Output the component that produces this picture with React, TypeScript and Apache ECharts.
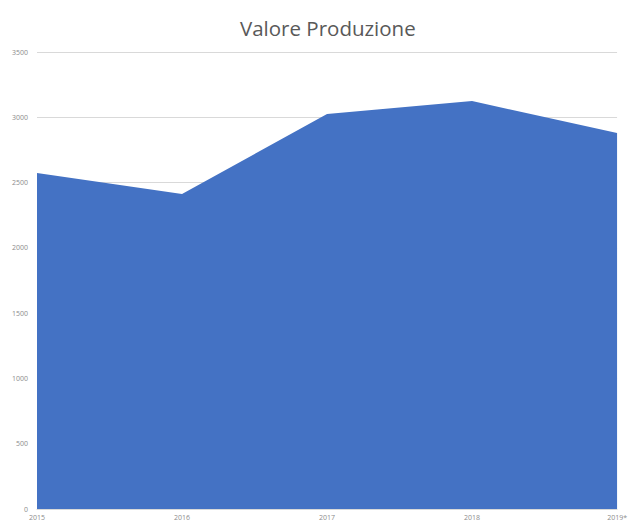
import React, { useEffect, useRef } from "react";
import * as echarts from "echarts";

const categories = ["2015", "2016", "2017", "2018", "2019*"];
const values = [2573, 2412, 3025, 3124, 2879];
const yTicks = [0, 500, 1000, 1500, 2000, 2500, 3000, 3500];

export default function App() {
  const ref = useRef<HTMLDivElement>(null);
  useEffect(() => {
    document.body.style.margin = "0";
    document.body.style.overflow = "hidden";
    const chart = echarts.init(ref.current!, null, { renderer: "svg" });
    chart.setOption({
      animation: false,
      title: {
        text: "Valore Produzione",
        left: 235,
        top: 12,
        textStyle: { fontFamily: "Open Sans", fontSize: 20.5, fontWeight: "normal", color: "#595959" },
      },
      grid: { left: 37, right: 9, top: 52, bottom: 14 },
      xAxis: {
        type: "category",
        data: categories,
        boundaryGap: false,
        axisLine: { show: true, lineStyle: { color: "#d9d9d9" } },
        axisTick: { show: false },
        axisLabel: { fontSize: 7, color: "#8c8c8c", margin: 5, fontFamily: "Open Sans" },
      },
      yAxis: {
        type: "value",
        min: yTicks[0],
        max: yTicks[yTicks.length - 1],
        interval: 500,
        axisLine: { show: false },
        axisTick: { show: false },
        splitLine: { lineStyle: { color: "#d9d9d9" } },
        axisLabel: {
          fontSize: 7,
          color: "#8c8c8c",
          margin: 9,
          fontFamily: "Open Sans",
          formatter: (v: number) => String(v),
        },
      },
      series: [
        {
          type: "line",
          data: values,
          symbol: "none",
          lineStyle: { width: 0 },
          areaStyle: { color: "#4472C4", opacity: 1 },
          itemStyle: { color: "#4472C4" },
        },
      ],
    });
    return () => chart.dispose();
  }, []);
  return <div ref={ref} style={{ width: 630, height: 523 }} />;
}
